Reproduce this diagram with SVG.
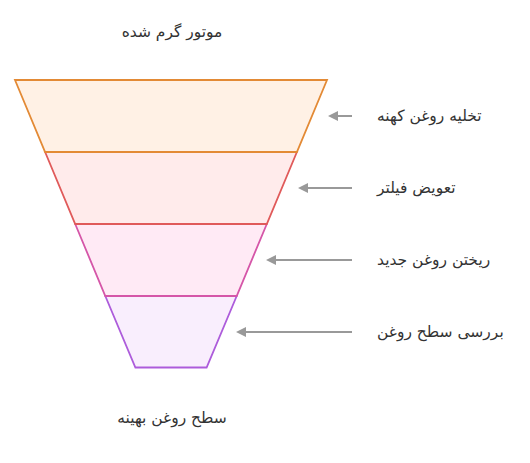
<svg xmlns="http://www.w3.org/2000/svg" width="530" height="463" viewBox="0 0 530 463">
<defs>
<style>
.t{font-family:"DejaVu Sans","Noto Sans",sans-serif;font-size:15.5px;fill:#333;}
.layer{stroke-width:1.8;stroke-linejoin:miter;}
.conn{stroke:#999;stroke-width:2;fill:none;marker-end:url(#ah);}
</style>
<marker id="ah" viewBox="0 0 10 10" refX="8" refY="5" markerWidth="5" markerHeight="5" orient="auto" markerUnits="strokeWidth">
<path d="M0,0 L10,5 L0,10 z" fill="#999"/>
</marker>
</defs>
<rect width="530" height="463" fill="#fff"/>
<text class="t" x="172" y="37" text-anchor="middle">موتور گرم شده</text>
<g id="layer4"><polygon class="layer" points="105.3,296 236.7,296 206.6,367.5 135.4,367.5" fill="#f9eefd" stroke="#ad5cdb"/></g>
<g id="layer3"><polygon class="layer" points="75.2,224 266.8,224 236.7,296 105.3,296" fill="#ffeaf5" stroke="#d556a8"/></g>
<g id="layer2"><polygon class="layer" points="45.1,152 296.9,152 266.8,224 75.2,224" fill="#ffebeb" stroke="#e05a5a"/></g>
<g id="layer1"><polygon class="layer" points="15,80 327,80 296.9,152 45.1,152" fill="#fff1e5" stroke="#e38a35"/></g>
<g id="connectors">
<line class="conn" x1="352" y1="116" x2="330" y2="116"/>
<line class="conn" x1="352" y1="188" x2="300" y2="188"/>
<line class="conn" x1="352" y1="260" x2="268" y2="260"/>
<line class="conn" x1="352" y1="332" x2="238" y2="332"/>
</g>
<g id="label1"><text class="t" x="377" y="121">تخلیه روغن کهنه</text></g>
<g id="label2"><text class="t" x="377" y="193">تعویض فیلتر</text></g>
<g id="label3"><text class="t" x="377" y="265">ریختن روغن جدید</text></g>
<g id="label4"><text class="t" x="377" y="337">بررسی سطح روغن</text></g>
<text class="t" x="172" y="423" text-anchor="middle">سطح روغن بهینه</text>
</svg>
